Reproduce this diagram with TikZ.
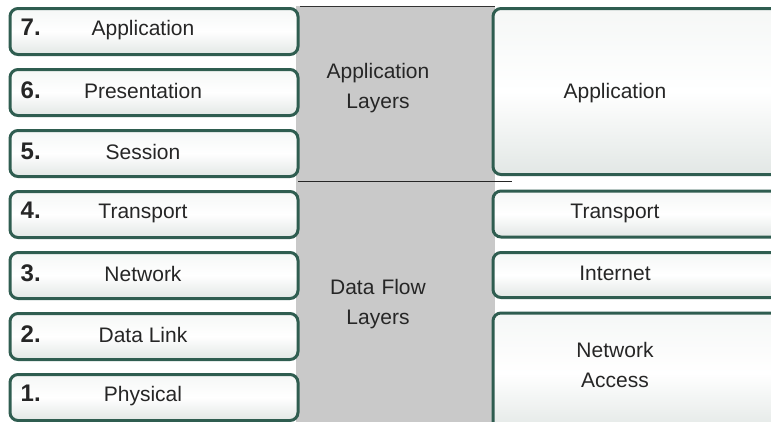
\documentclass[tikz,border=0pt]{standalone}
\usepackage{fontspec}
\setmainfont{Liberation Sans}
\definecolor{rim}{HTML}{2F5D50}
\definecolor{band}{HTML}{C9C9C9}
\definecolor{boxtop}{HTML}{F5F7F6}
\definecolor{boxbot}{HTML}{E2E7E5}
\tikzset{
  layer/.style={draw=rim, line width=3pt, rounded corners=8pt,
    top color=boxtop, bottom color=boxbot, middle color=white,
    inner sep=0pt},
  lname/.style={font=\fontsize{21}{30}\selectfont, text=black!85, align=center},
  lnum/.style={font=\fontsize{24}{28}\selectfont\bfseries, text=black!85,
    anchor=base west, inner sep=0pt},
}
\begin{document}
\begin{tikzpicture}[x=1pt,y=-1pt]
\useasboundingbox (0,0) rectangle (771,421);
\clip (0,0) rectangle (771,421);
\fill[white] (0,0) rectangle (771,421);

% grey band behind the two layer groups
\fill[band] (296,6) rectangle (495,425);
\draw[black!80, line width=1pt] (300,6.5) -- (495,6.5);
\coordinate (divL) at (298,181.5);
\coordinate (divR) at (512,181.5);
\draw[black!85, line width=1.2pt] (divL) -- (divR);

% OSI model layers
\foreach \n/\y/\name in {7/31.5/Application, 6/92.5/Presentation, 5/153.5/Session,
    4/214.5/Transport, 3/275.5/Network, 2/336.5/Data Link, 1/397.5/Physical}{
  \node[layer, minimum width=288pt, minimum height=46pt] (osi\n) at (154,\y) {};
  \node[lname] (name\n) at ([xshift=-11pt,yshift=1.5pt]osi\n.center) {\name};
  \node[lnum] (num\n) at ([xshift=12pt]osi\n.west |- name\n.base) {\n.};
}

% group labels
\node[lname, text width=160pt] (appgrp) at (378,88) {Application\\Layers};
\node[lname, text width=160pt] (flowgrp) at (378,304) {Data Flow\\Layers};

% TCP/IP model layers
\node[layer, minimum width=296pt, minimum height=166pt] (tapp) at (641,91.5) {};
\node[lname] (tappname) at (615,93) {Application};
\node[layer, minimum width=296pt, minimum height=46pt] (ttrans) at (641,214) {};
\node[lname] (ttransname) at (615,213.5) {Transport};
\node[layer, minimum width=296pt, minimum height=45pt] (tnet) at (641,275) {};
\node[lname] (tnetname) at (615,273) {Internet};
\node[layer, minimum width=296pt, minimum height=120pt] (tacc) at (641,373) {};
\node[lname, text width=160pt] (taccname) at (615,364.5) {Network\\Access};
\end{tikzpicture}
\end{document}
